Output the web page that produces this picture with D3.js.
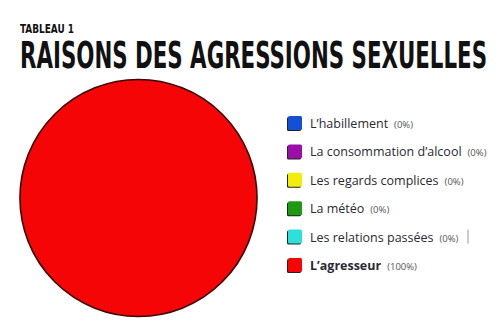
<!DOCTYPE html>
<html>
<head>
<meta charset="utf-8">
<script src="https://cdn.jsdelivr.net/npm/d3@7"></script>
<style>
  body { margin: 0; background: #fff; }
  svg { display: block; }
</style>
</head>
<body>
<svg></svg>
<script>
// Data
const categories = ['L\u2019habillement', 'La consommation d\u2019alcool', 'Les regards complices', 'La m\u00e9t\u00e9o', 'Les relations pass\u00e9es', 'L\u2019agresseur']
const values = [0, 0, 0, 0, 0, 100]
const percentLabels = ['(0%)', '(0%)', '(0%)', '(0%)', '(0%)', '(100%)']
const colors = ['#1250d8', '#9b0fa8', '#f2ee0a', '#1e9a12', '#2de0dc', '#f50505']

const width = 504
const height = 332
const svg = d3.select('svg').attr('width', width).attr('height', height)

// Titles (condensed font, stretched vertically)
svg.append('text')
    .attr('transform', 'translate(20, 33) scale(1, 1.25)')
    .attr('font-family', 'DejaVu Sans Condensed, sans-serif')
    .attr('font-weight', 'bold')
    .attr('font-size', 9.5)
    .attr('textLength', 54)
    .attr('lengthAdjust', 'spacingAndGlyphs')
    .attr('fill', '#111')
    .text('TABLEAU 1')

svg.append('text')
    .attr('transform', 'translate(20, 68) scale(1, 1.62)')
    .attr('font-family', 'DejaVu Sans Condensed, sans-serif')
    .attr('font-weight', 'bold')
    .attr('font-size', 23.5)
    .attr('textLength', 467)
    .attr('lengthAdjust', 'spacingAndGlyphs')
    .attr('fill', '#111')
    .text('RAISONS DES AGRESSIONS SEXUELLES')

// Pie
const radius = 118.5
const pie = d3.pie().sort(null).value(d => d.value)
const arc = d3.arc().innerRadius(0).outerRadius(radius)
const data = categories.map((c, i) => ({name: c, value: values[i], color: colors[i]}))

const pieG = svg.append('g').attr('transform', 'translate(138.5, 198)')
pieG.selectAll('path')
    .data(pie(data).filter(d => d.data.value > 0))
    .enter()
    .append('path')
    .attr('d', arc)
    .attr('fill', d => d.data.color)
    .attr('stroke', '#3a0a0a')
    .attr('stroke-width', 1.6)

// Legend
const yScale = d3.scalePoint().domain(categories).range([123, 265])
const legend = svg.append('g')
const rows = legend.selectAll('g')
    .data(data)
    .enter()
    .append('g')
    .attr('transform', d => 'translate(288, ' + yScale(d.name) + ')')

rows.append('rect')
    .attr('x', -1).attr('y', -6)
    .attr('width', 14).attr('height', 14)
    .attr('rx', 1.5)
    .attr('fill', '#222')
rows.append('rect')
    .attr('x', 0).attr('y', -7)
    .attr('width', 14).attr('height', 14)
    .attr('rx', 1.5)
    .attr('fill', d => d.color)

const labels = rows.append('text')
    .attr('x', 22).attr('y', 5)
    .attr('font-family', 'Open Sans, Noto Sans, sans-serif')
    .attr('font-size', 12.5)
    .attr('fill', '#2a2a35')
labels.append('tspan')
    .attr('font-weight', (d, i) => i === 5 ? 'bold' : 'normal')
    .text(d => d.name)
labels.append('tspan')
    .attr('dx', 6)
    .attr('font-size', 9.5)
    .attr('fill', '#555')
    .text((d, i) => percentLabels[i])

// stray cursor mark after "Les relations passées"
svg.append('line')
    .attr('x1', 468).attr('x2', 468)
    .attr('y1', yScale(categories[4]) - 7).attr('y2', yScale(categories[4]) + 7)
    .attr('stroke', '#999').attr('stroke-width', 1)
</script>
</body>
</html>
